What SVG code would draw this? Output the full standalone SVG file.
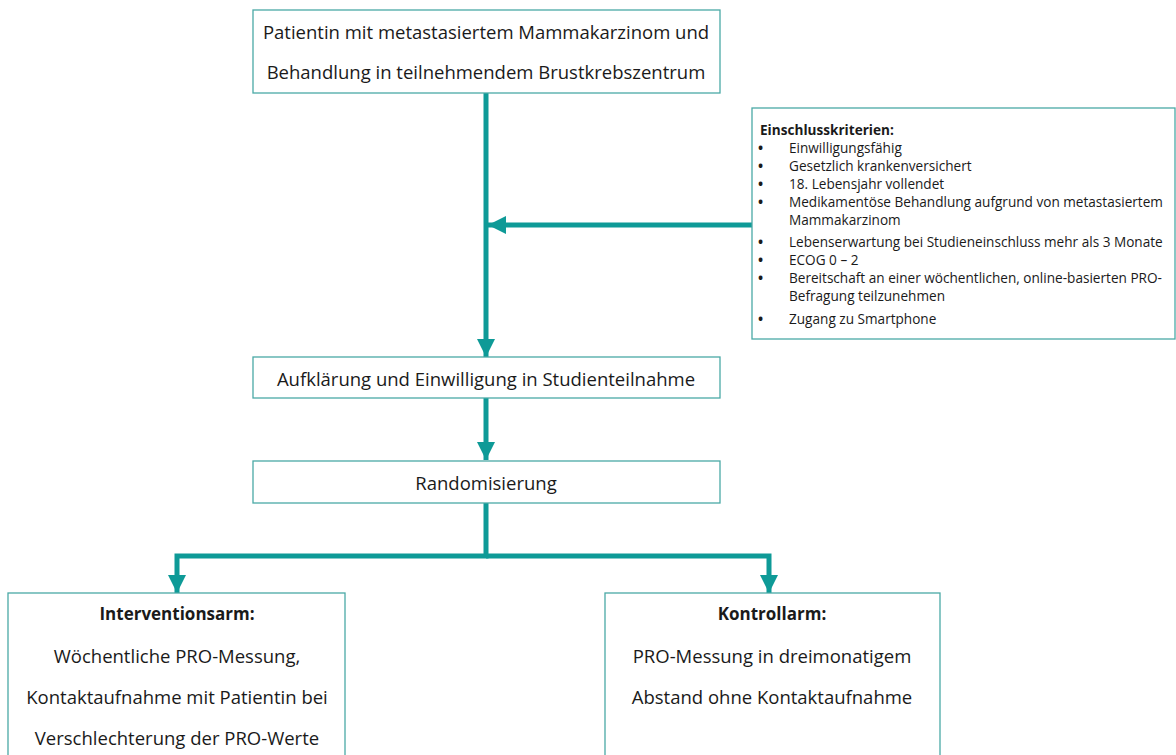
<svg xmlns="http://www.w3.org/2000/svg" width="1176" height="755" viewBox="0 0 1176 755">
<style>
.box{fill:#fff;stroke:#4aa9a6;stroke-width:1.3}
.t{font-family:"Open Sans","Liberation Sans",sans-serif;font-size:18.5px;fill:#1a1a1a;text-anchor:middle;dominant-baseline:central}
.b{font-weight:bold;font-size:17px}
.s{font-family:"Open Sans","Liberation Sans",sans-serif;font-size:13.6px;fill:#1a1a1a;dominant-baseline:central}
.d{font-weight:bold}
.c{fill:none;stroke:#0e9a97;stroke-width:5}
</style>
<defs>
<marker id="ah" viewBox="0 0 10 10" refX="10" refY="5" markerWidth="3.6" markerHeight="3.6" orient="auto" markerUnits="strokeWidth">
<path d="M0,0 L10,5 L0,10 z" fill="#0e9a97"/>
</marker>
</defs>
<rect width="1176" height="755" fill="#fff"/>
<g id="connectors">
<path class="c" d="M486,93 V357" marker-end="url(#ah)"/>
<path class="c" d="M752,225 H488" marker-end="url(#ah)"/>
<path class="c" d="M486,398 V460" marker-end="url(#ah)"/>
<path class="c" d="M486,503 V556 H177 V593" stroke-linejoin="miter" marker-end="url(#ah)"/>
<path class="c" d="M486,556 H769 V593" marker-end="url(#ah)"/>
</g>
<g id="n1">
<rect class="box" x="253" y="10" width="467" height="83"/>
<text class="t" x="486" y="31">Patientin mit metastasiertem Mammakarzinom  und</text>
<text class="t" x="486" y="71">Behandlung in teilnehmendem Brustkrebszentrum</text>
</g>
<g id="criteria">
<rect class="box" x="752" y="108" width="423" height="231"/>
<text class="s" x="760" y="129" font-size="16.5" font-weight="bold">Einschlusskriterien:</text>
<g class="s">
<text class="d" x="758" y="147">•</text><text x="789" y="147">Einwilligungsfähig</text>
<text class="d" x="758" y="165">•</text><text x="789" y="165">Gesetzlich krankenversichert</text>
<text class="d" x="758" y="183">•</text><text x="789" y="183">18. Lebensjahr vollendet</text>
<text class="d" x="758" y="201">•</text><text x="789" y="201">Medikamentöse Behandlung aufgrund von metastasiertem</text>
<text x="789" y="219">Mammakarzinom</text>
<text class="d" x="758" y="241">•</text><text x="789" y="241">Lebenserwartung bei Studieneinschluss mehr als 3 Monate</text>
<text class="d" x="758" y="259">•</text><text x="789" y="259">ECOG 0 – 2</text>
<text class="d" x="758" y="277">•</text><text x="789" y="277">Bereitschaft an einer wöchentlichen, online-basierten PRO-</text>
<text x="789" y="295">Befragung teilzunehmen</text>
<text class="d" x="758" y="318">•</text><text x="789" y="318">Zugang zu Smartphone</text>
</g>
</g>
<g id="n2">
<rect class="box" x="253" y="357" width="467" height="41"/>
<text class="t" x="486" y="378">Aufklärung und Einwilligung in Studienteilnahme</text>
</g>
<g id="n3">
<rect class="box" x="253" y="461" width="467" height="42"/>
<text class="t" x="486" y="482">Randomisierung</text>
</g>
<g id="n4">
<rect class="box" x="8" y="593" width="337" height="170"/>
<text class="t b" x="177" y="613">Interventionsarm:</text>
<text class="t" x="177" y="655">Wöchentliche PRO-Messung,</text>
<text class="t" x="177" y="696">Kontaktaufnahme mit Patientin bei</text>
<text class="t" x="177" y="737">Verschlechterung der PRO-Werte</text>
</g>
<g id="n5">
<rect class="box" x="605" y="593" width="335" height="170"/>
<text class="t b" x="772" y="613">Kontrollarm:</text>
<text class="t" x="772" y="655">PRO-Messung in dreimonatigem</text>
<text class="t" x="772" y="696">Abstand ohne Kontaktaufnahme</text>
</g>
</svg>
